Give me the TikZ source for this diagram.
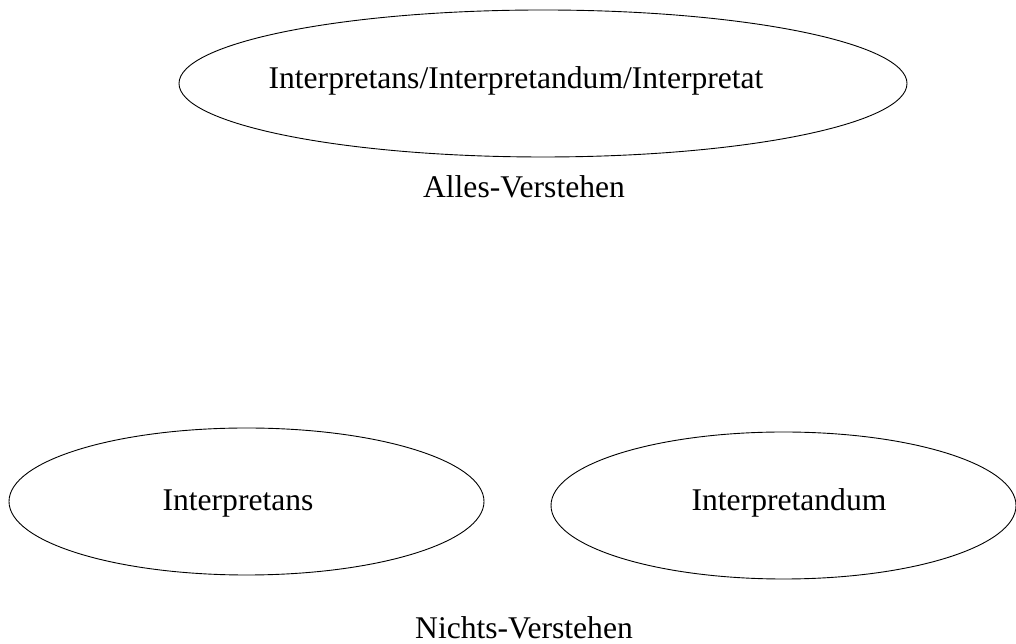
\documentclass[tikz,border=0pt]{standalone}
\usepackage{fontspec}
\setmainfont{Liberation Serif}
\usetikzlibrary{shapes.geometric}
\tikzstyle{ell}=[ellipse,draw=black,line width=.9pt,inner sep=0pt,outer sep=0pt]
\tikzstyle{txt}=[anchor=base,inner sep=0pt,font=\fontsize{31.6}{38}\selectfont]

\begin{document}
\begin{tikzpicture}[x=1pt,y=1pt]
\useasboundingbox (0,0) rectangle (1016,644);
\node[ell,minimum width=728pt,minimum height=147pt] (alle) at (543,560.5) {};
\node[ell,minimum width=475pt,minimum height=147pt] (ans) at (246.5,142.5) {};
\node[ell,minimum width=465pt,minimum height=147pt] (andum) at (783.5,138.5) {};
\node[txt] (alleT) at (516,555) {Interpretans/Interpretandum/Interpretat};
\node[txt] (alles) at (524,446) {Alles-Verstehen};
\node[txt] (ansT) at (238,133) {Interpretans};
\node[txt] (andumT) at (789,133) {Interpretandum};
\node[txt] (nichts) at (524,5) {Nichts-Verstehen};
\end{tikzpicture}
\end{document}
